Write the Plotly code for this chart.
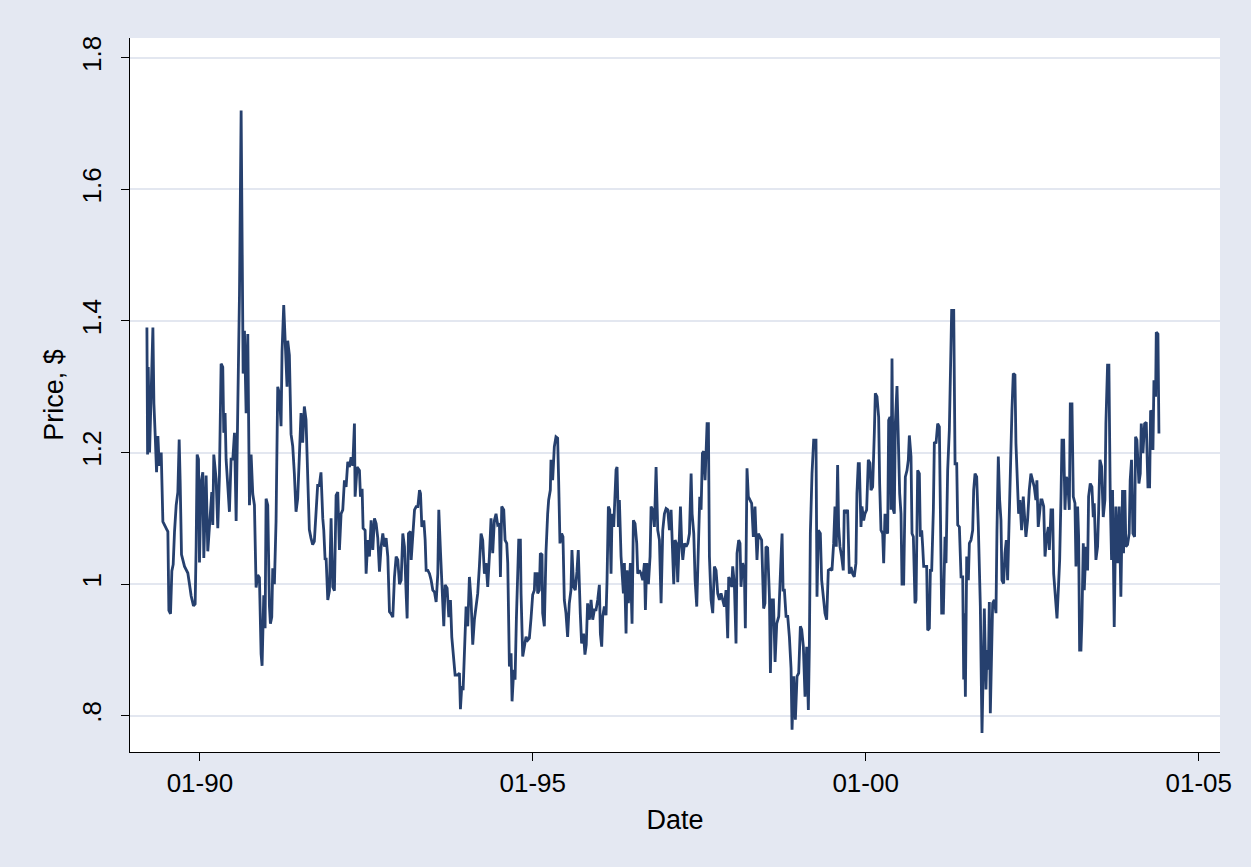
import datetime as dt
import plotly.graph_objects as go

# Decimal-year dates and prices
years = [
1989.204,1989.214,1989.224,1989.244,1989.294,1989.309,1989.329,1989.349,1989.369,1989.389,
1989.419,1989.444,1989.494,1989.519,1989.534,1989.559,1989.579,1989.599,1989.619,1989.644,
1989.669,1989.689,1989.704,1989.724,1989.769,1989.819,1989.844,1989.869,1989.904,1989.929,
1989.944,1989.959,1989.979,1989.994,1990.019,1990.044,1990.059,1990.094,1990.119,1990.144,
1990.179,1990.194,1990.209,1990.244,1990.269,1990.294,1990.319,1990.344,1990.359,1990.379,
1990.394,1990.419,1990.444,1990.469,
1990.495,1990.520,1990.545,1990.570,1990.595,1990.620,1990.640,1990.650,1990.670,1990.695,
1990.720,1990.745,1990.770,1990.795,1990.820,1990.845,1990.870,1990.895,1990.920,1990.935,
1990.960,1990.980,1990.995,1991.020,1991.045,1991.060,1991.080,1991.095,1991.120,1991.145,
1991.170,1991.195,1991.220,1991.235,1991.260,1991.280,1991.310,1991.320,1991.345,1991.370,
1991.395,1991.420,1991.445,1991.470,1991.495,1991.520,1991.545,1991.570,1991.595,1991.620,
1991.645,1991.670,1991.695,1991.720,1991.745,1991.770,1991.795,1991.820,
1991.847,1991.862,1991.882,1991.897,1991.922,1991.947,1991.972,1991.997,1992.022,1992.047,
1992.072,1992.097,1992.122,1992.147,1992.172,1992.197,1992.222,1992.247,1992.272,1992.297,
1992.322,1992.332,1992.362,1992.397,1992.412,1992.437,1992.452,1992.482,1992.497,1992.522,
1992.547,1992.572,1992.597,1992.622,1992.647,1992.672,1992.697,1992.722,1992.747,1992.772,
1992.797,1992.822,1992.847,1992.872,1992.897,1992.922,1992.947,1992.972,1992.997,1993.022,
1993.047,1993.072,1993.097,1993.112,1993.132,1993.162,
1993.173,1993.198,1993.223,1993.248,1993.273,1993.298,1993.313,1993.333,1993.363,1993.383,
1993.398,1993.423,1993.448,1993.473,1993.498,1993.523,1993.548,1993.573,1993.588,1993.613,
1993.638,1993.663,1993.683,1993.713,1993.738,1993.763,1993.783,1993.798,1993.813,1993.833,
1993.873,1993.898,1993.913,1993.933,1993.953,1993.973,1993.998,1994.023,1994.048,1994.073,
1994.098,1994.123,1994.148,1994.173,1994.198,1994.223,1994.248,1994.273,1994.298,1994.323,
1994.348,1994.373,1994.398,1994.423,1994.448,1994.473,
1994.499,1994.514,1994.534,1994.564,1994.584,1994.609,1994.624,1994.649,1994.674,1994.689,
1994.714,1994.734,1994.754,1994.774,1994.789,1994.814,1994.824,1994.849,1994.874,1994.899,
1994.924,1994.949,1994.974,1994.999,1995.024,1995.034,1995.064,1995.074,1995.099,1995.114,
1995.139,1995.149,1995.174,1995.199,1995.224,1995.239,1995.264,1995.274,1995.299,1995.324,
1995.349,1995.374,1995.389,1995.409,1995.434,1995.454,1995.474,1995.499,1995.524,1995.549,
1995.574,1995.589,1995.614,1995.639,1995.664,1995.684,1995.714,1995.734,1995.764,1995.784,
1995.804,1995.824,
1995.851,1995.876,1995.901,1995.926,1995.951,1995.976,1996.001,1996.016,1996.036,1996.051,
1996.076,1996.101,1996.116,1996.136,1996.156,1996.176,1996.191,1996.216,1996.251,1996.266,
1996.286,1996.301,1996.326,1996.341,1996.361,1996.376,1996.401,1996.416,1996.436,1996.466,
1996.491,1996.511,1996.536,1996.561,1996.576,1996.601,1996.626,1996.651,1996.676,1996.691,
1996.711,1996.736,1996.761,1996.776,1996.801,1996.826,1996.851,1996.876,1996.901,1996.926,
1996.951,1996.976,1997.001,1997.026,1997.051,1997.076,1997.101,1997.116,1997.136,1997.156,
1997.176,
1997.192,1997.217,1997.237,1997.252,1997.277,1997.302,1997.327,1997.352,1997.377,1997.392,
1997.417,1997.437,1997.462,1997.487,1997.507,1997.527,1997.547,1997.567,1997.587,1997.617,
1997.637,1997.652,1997.677,1997.702,1997.727,1997.752,1997.777,1997.802,1997.827,1997.852,
1997.877,1997.902,1997.927,1997.942,1997.962,1997.987,1998.002,1998.027,1998.052,1998.067,
1998.092,1998.112,1998.127,1998.152,1998.177,1998.192,1998.217,1998.237,1998.262,1998.287,
1998.312,1998.337,1998.367,1998.387,1998.412,1998.437,1998.467,1998.487,1998.502,1998.527,
1998.554,1998.569,1998.589,1998.614,1998.639,1998.664,1998.694,1998.709,1998.729,1998.744,
1998.759,1998.779,1998.804,1998.829,1998.854,1998.879,1998.894,1998.919,1998.944,1998.969,
1998.994,1999.019,1999.039,1999.064,1999.089,1999.114,1999.139,1999.154,1999.169,1999.194,
1999.219,1999.254,1999.269,1999.289,1999.319,1999.339,1999.364,1999.389,1999.414,1999.439,
1999.469,1999.494,1999.519,1999.539,1999.559,1999.579,1999.594,1999.614,1999.639,1999.664,
1999.679,1999.704,1999.729,1999.754,1999.779,1999.804,1999.829,1999.854,1999.869,1999.889,
1999.905,1999.930,1999.945,1999.970,1999.990,2000.015,2000.040,2000.065,2000.080,2000.105,
2000.130,2000.145,2000.170,2000.195,2000.210,2000.230,2000.255,2000.270,2000.290,2000.305,
2000.330,2000.345,2000.365,2000.380,2000.395,2000.415,2000.430,2000.445,2000.470,2000.490,
2000.510,2000.530,2000.545,2000.570,2000.580,2000.595,2000.620,2000.640,2000.655,2000.680,
2000.695,2000.715,2000.740,2000.755,2000.780,2000.805,2000.820,2000.840,2000.855,2000.870,
2000.895,2000.915,2000.930,2000.955,2000.970,2000.990,2001.015,2001.030,2001.055,2001.080,
2001.105,2001.120,2001.140,2001.165,2001.190,2001.205,2001.230,2001.255,2001.270,2001.290,
2001.321,2001.341,2001.366,2001.381,2001.406,2001.431,2001.456,2001.471,2001.481,2001.496,
2001.516,2001.541,2001.556,2001.581,2001.606,2001.621,2001.641,2001.666,2001.691,2001.706,
2001.721,2001.731,2001.746,2001.766,2001.781,2001.806,2001.821,2001.841,2001.856,2001.871,
2001.891,2001.906,2001.931,2001.956,2001.971,2001.991,2002.011,2002.031,2002.046,2002.071,
2002.091,2002.111,2002.131,2002.146,2002.166,2002.181,2002.196,2002.216,2002.241,2002.256,
2002.281,2002.296,2002.316,2002.341,2002.366,2002.381,2002.406,2002.431,2002.456,2002.481,
2002.506,2002.531,2002.556,2002.571,2002.591,2002.631,
2002.648,2002.673,2002.693,2002.718,2002.743,2002.758,2002.783,2002.808,2002.823,2002.843,
2002.858,2002.873,2002.893,2002.913,2002.933,2002.948,2002.973,2002.993,2003.013,2003.033,
2003.058,2003.073,2003.098,2003.118,2003.143,2003.158,2003.183,2003.198,2003.213,2003.233,
2003.248,2003.268,2003.283,2003.308,2003.333,2003.348,2003.373,2003.398,2003.418,2003.433,
2003.458,2003.483,2003.498,2003.518,2003.543,2003.568,2003.593,2003.608,2003.633,2003.653,
2003.673,2003.693,2003.708,2003.733,2003.758,2003.783,2003.808,2003.833,2003.858,2003.873,
2003.893,2003.908,2003.933,2003.958,2003.973,2003.993,
2004.014,2004.039,2004.054,2004.074,2004.104,2004.124,2004.139,2004.164,2004.189,2004.214,
2004.239,2004.264,2004.279,2004.304,2004.314,2004.329,2004.354,2004.364,2004.389,2004.404,
]

prices = [
1.39,1.197,1.33,1.20,1.39,1.275,1.225,1.17,1.225,1.18,
1.20,1.095,1.085,1.08,0.96,0.955,1.02,1.03,1.08,1.12,
1.14,1.22,1.155,1.045,1.027,1.017,1.0,0.982,0.967,0.97,
1.058,1.197,1.19,1.033,1.155,1.17,1.04,1.165,1.05,1.09,
1.14,1.09,1.197,1.16,1.085,1.165,1.335,1.33,1.23,1.26,
1.19,1.15,1.11,1.19,
1.19,1.23,1.096,1.27,1.44,1.72,1.41,1.32,1.385,1.26,
1.38,1.12,1.197,1.137,1.12,0.995,1.014,1.01,0.894,0.876,
0.983,0.933,1.13,1.12,0.967,0.94,0.95,1.024,1.0,1.096,
1.30,1.29,1.24,1.354,1.424,1.36,1.30,1.37,1.348,1.228,
1.21,1.168,1.11,1.13,1.21,1.26,1.215,1.27,1.25,1.16,
1.083,1.07,1.06,1.065,1.115,1.15,1.15,1.17,
1.10,1.082,1.037,1.04,0.976,0.99,1.10,0.996,0.99,1.135,
1.14,1.052,1.107,1.113,1.158,1.148,1.186,1.178,1.193,1.18,
1.244,1.133,1.178,1.173,1.133,1.145,1.085,1.082,1.016,1.067,
1.042,1.097,1.052,1.10,1.092,1.07,1.019,1.057,1.077,1.057,
1.07,1.042,0.958,0.955,0.95,1.011,1.042,1.037,1.0,1.006,
1.077,1.057,0.986,0.948,1.077,1.08,
1.037,1.072,1.113,1.118,1.118,1.143,1.138,1.087,1.097,1.067,
1.021,1.021,1.016,1.006,0.991,0.988,0.973,1.016,1.113,1.05,
1.0,0.936,0.999,0.994,0.95,0.976,0.92,0.905,0.885,0.862,
0.862,0.865,0.81,0.845,0.839,0.905,0.966,0.936,1.011,0.976,
0.908,0.946,0.966,0.986,1.027,1.077,1.067,1.016,1.032,0.996,
1.042,1.10,1.047,1.097,1.107,1.09,
1.092,1.011,1.118,1.113,1.067,1.062,1.032,0.875,0.895,0.822,
0.87,0.855,0.948,1.027,1.067,1.067,0.986,0.89,0.908,0.92,
0.915,0.918,0.948,0.984,0.991,1.016,1.016,0.986,0.991,1.047,
1.045,0.956,0.936,1.049,1.107,1.128,1.143,1.189,1.158,1.209,
1.224,1.222,1.158,1.062,1.077,1.072,0.976,0.956,0.92,0.971,
0.991,1.052,0.996,0.991,1.019,1.052,0.956,0.91,0.925,0.893,
0.908,0.971,
0.946,0.976,0.946,0.961,0.961,0.976,0.999,0.925,0.905,0.951,
0.966,0.953,1.006,1.118,1.113,1.016,1.107,1.087,1.174,1.178,
1.087,1.128,1.042,1.011,0.986,1.032,0.925,1.021,0.971,1.032,
0.94,1.097,1.092,1.062,1.016,1.021,1.016,1.006,1.032,0.961,
1.032,1.0,1.042,1.118,1.113,1.087,1.178,1.082,1.067,0.971,
1.082,1.107,1.115,1.113,1.082,1.113,1.057,1.0,1.067,1.062,
1.003,
1.062,1.118,1.057,1.037,1.062,1.057,1.062,1.077,1.168,1.107,
1.077,1.006,0.966,1.062,1.133,1.113,1.199,1.202,1.158,1.244,
1.244,1.042,0.976,0.956,1.027,1.021,0.986,0.976,0.986,0.976,
0.966,0.991,0.918,1.011,1.006,0.996,1.027,1.001,0.91,1.047,
1.067,1.062,0.996,1.032,1.021,0.933,1.176,1.133,1.128,1.123,
1.072,1.118,1.037,1.077,1.072,1.067,0.963,0.971,1.057,1.055,
0.981,0.865,0.976,0.976,0.882,0.94,0.951,1.0,1.042,1.077,
0.991,0.991,0.951,0.951,0.92,0.872,0.779,0.86,0.794,0.86,
0.865,0.936,0.931,0.905,0.829,0.905,0.809,0.905,1.077,1.168,
1.219,1.219,0.981,1.082,1.077,1.006,0.976,0.956,0.946,1.021,
1.023,1.021,1.062,1.118,1.057,1.181,1.087,1.057,1.042,1.021,
1.113,1.108,1.113,1.016,1.026,1.016,1.011,1.032,1.138,1.183,
1.183,1.087,1.118,1.097,1.107,1.113,1.189,1.184,1.143,1.148,
1.229,1.29,1.285,1.254,1.153,1.082,1.077,1.032,1.107,1.082,
1.077,1.249,1.254,1.113,1.343,1.113,1.107,1.244,1.301,1.199,
1.138,1.107,1.0,1.0,1.107,1.163,1.173,1.189,1.226,1.194,
1.077,1.072,0.971,0.976,1.173,1.168,1.072,1.082,1.057,1.027,
1.027,1.027,0.93,0.933,1.021,1.021,1.113,1.216,1.214,1.244,
1.239,1.072,0.956,0.956,1.072,1.032,1.173,1.234,1.302,1.416,
1.416,1.183,1.183,1.09,1.087,1.011,1.011,0.855,0.956,0.829,
1.042,1.006,1.062,1.067,1.082,1.143,1.168,1.163,1.087,1.032,
0.966,0.885,0.774,0.88,0.963,0.84,0.9,0.87,0.973,0.804,
0.88,0.971,0.976,0.956,1.082,1.194,1.128,1.097,1.006,1.001,
1.047,1.067,1.006,1.077,1.128,1.214,1.264,1.32,1.318,1.214,
1.148,1.107,1.128,1.082,1.133,1.102,1.072,1.097,1.143,1.168,
1.158,1.148,1.128,1.158,1.087,1.128,
1.128,1.118,1.042,1.072,1.087,1.052,1.113,1.113,1.016,0.991,
0.971,0.948,0.991,1.037,1.133,1.219,1.219,1.113,1.163,1.158,
1.113,1.274,1.274,1.133,1.123,1.027,1.118,1.072,0.9,0.9,
0.948,1.062,0.991,1.057,1.021,1.133,1.153,1.148,1.102,1.123,
1.037,1.057,1.107,1.189,1.179,1.102,1.128,1.244,1.333,1.333,
1.133,1.037,1.143,0.935,1.118,1.032,1.118,0.981,1.143,1.047,
1.143,1.057,1.06,1.077,1.158,1.189,
1.077,1.072,1.224,1.219,1.153,1.168,1.244,1.199,1.244,1.246,
1.148,1.148,1.264,1.26,1.204,1.31,1.285,1.383,1.38,1.229,
]

x_tick_dates = ["1990-01-01", "1995-01-01", "2000-01-01", "2005-01-01"]
x_tick_labels = ["01-90", "01-95", "01-00", "01-05"]
y_tick_vals = [0.8, 1.0, 1.2, 1.4, 1.6, 1.8]
y_tick_labels = [".8", "1", "1.2", "1.4", "1.6", "1.8"]


def dec_to_date(y):
    yr = int(y)
    start = dt.datetime(yr, 1, 1)
    end = dt.datetime(yr + 1, 1, 1)
    return start + (end - start) * (y - yr)


dates = [dec_to_date(v) for v in years]

NAVY = "#26406e"
BG = "#e4e8f2"
GRID = "#e3e7f0"
FONT = "Liberation Sans, Arial, sans-serif"

fig = go.Figure()
fig.add_trace(go.Scatter(x=dates, y=prices, mode="lines",
                         line=dict(color=NAVY, width=2.8), showlegend=False,
                         hoverinfo="x+y"))

fig.update_layout(
    width=1251, height=867,
    paper_bgcolor=BG, plot_bgcolor="white",
    margin=dict(l=130, r=31, t=38, b=115),
    font=dict(family=FONT, size=26, color="black"),
    xaxis=dict(
        range=[dec_to_date(1988.95), dec_to_date(2005.32)],
        tickvals=[dt.datetime.fromisoformat(d) for d in x_tick_dates],
        ticktext=x_tick_labels,
        showgrid=False, zeroline=False,
        showline=True, linecolor="black", linewidth=1.2,
        ticks="outside", ticklen=8, tickwidth=1.2, tickcolor="black",
        tickfont=dict(size=26),
        title=dict(text="Date", font=dict(size=27), standoff=12),
    ),
    yaxis=dict(
        range=[0.745, 1.83],
        tickvals=y_tick_vals, ticktext=y_tick_labels,
        tickangle=-90,
        ticklabelstandoff=10,
        showgrid=True, gridcolor=GRID, gridwidth=2,
        zeroline=False,
        showline=True, linecolor="black", linewidth=1.2,
        ticks="outside", ticklen=8, tickwidth=1.2, tickcolor="black",
        tickfont=dict(size=26),
        title=dict(text="Price, $", font=dict(size=27), standoff=5),
    ),
)

fig.write_html(
    "out.html",
    config={"displayModeBar": False},
    post_script="document.body.style.margin='0';document.body.style.padding='0';",
)
